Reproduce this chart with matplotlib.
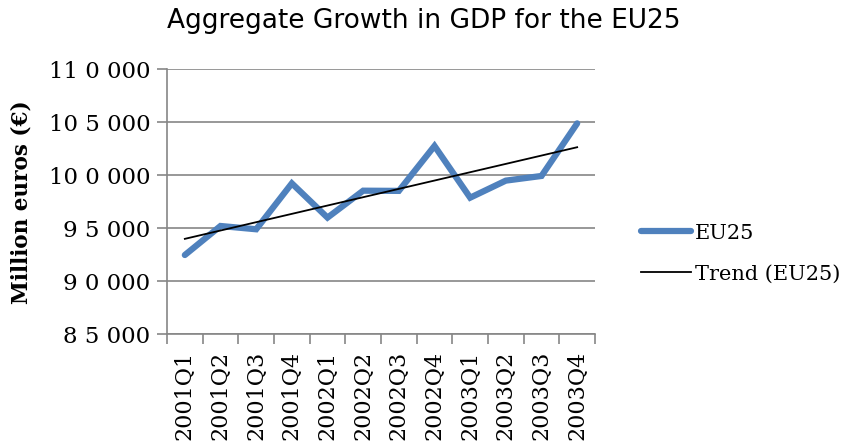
import numpy as np
import matplotlib
matplotlib.use("Agg")
import matplotlib.pyplot as plt
from matplotlib.ticker import FixedLocator, FixedFormatter, NullFormatter

categories = ["2001Q1", "2001Q2", "2001Q3", "2001Q4",
              "2002Q1", "2002Q2", "2002Q3", "2002Q4",
              "2003Q1", "2003Q2", "2003Q3", "2003Q4"]
eu25 = [92450, 95190, 94880, 99210, 95980, 98520,
        98500, 102740, 97860, 99470, 99910, 104870]
y_ticks = [85000, 90000, 95000, 100000, 105000, 110000]
y_tick_labels = ["8 5 000", "9 0 000", "9 5 000", "10 0 000", "10 5 000", "11 0 000"]

serif = "DejaVu Serif"

fig = plt.figure(figsize=(8.49, 4.45), dpi=100)
ax = fig.add_axes([167/849, 1-334/445, (595-167)/849, (334-69)/445])

x = np.arange(len(categories))
ax.plot(x, eu25, color="#4f81bd", lw=4.5, solid_capstyle="round",
        solid_joinstyle="miter", label="EU25", zorder=3)
coef = np.polyfit(x, eu25, 1)
ax.plot(x, np.polyval(coef, x), color="black", lw=1.3, label="Trend (EU25)", zorder=4)

ax.set_xlim(-0.5, len(categories) - 0.5)
ax.set_ylim(85000, 110000)
ax.yaxis.set_major_locator(FixedLocator(y_ticks))
ax.yaxis.set_major_formatter(FixedFormatter(y_tick_labels))
ax.grid(axis="y", color="#868686", lw=1.2)
ax.set_axisbelow(True)

ax.xaxis.set_major_locator(FixedLocator(np.arange(-0.5, len(categories), 1.0)))
ax.xaxis.set_major_formatter(NullFormatter())
ax.xaxis.set_minor_locator(FixedLocator(x))
ax.xaxis.set_minor_formatter(FixedFormatter(categories))
ax.tick_params(axis="x", which="major", length=7, color="#868686", width=1.2, direction="out")
ax.tick_params(axis="x", which="minor", length=0, pad=12)
for lab in ax.get_xticklabels(minor=True):
    lab.set_rotation(90)
    lab.set_fontfamily(serif)
    lab.set_fontsize(16)
    lab.set_va("top")
ax.tick_params(axis="y", length=7, color="#868686", width=1.2, pad=5)
for lab in ax.get_yticklabels():
    lab.set_fontfamily(serif)
    lab.set_fontsize(16.5)

for s in ["top", "right"]:
    ax.spines[s].set_visible(False)
for s in ["left", "bottom"]:
    ax.spines[s].set_color("#868686")
    ax.spines[s].set_linewidth(1.2)

ax.set_ylabel("Million euros (€)", fontfamily=serif, fontweight="bold", fontsize=15.5)
ax.yaxis.set_label_coords((33 - 167) / (595 - 167), (334 - 202) / (334 - 69))
fig.text(424/849, 1-21/445, "Aggregate Growth in GDP for the EU25", ha="center", va="center",
         fontsize=19, fontfamily="DejaVu Sans")

leg = fig.legend(loc="upper left", bbox_to_anchor=(622/849, 1-205/445), frameon=False,
                 prop={"family": serif, "size": 15}, handlelength=2.4,
                 handletextpad=0.2, labelspacing=1.05)

fig.savefig("out.png", dpi=100)
